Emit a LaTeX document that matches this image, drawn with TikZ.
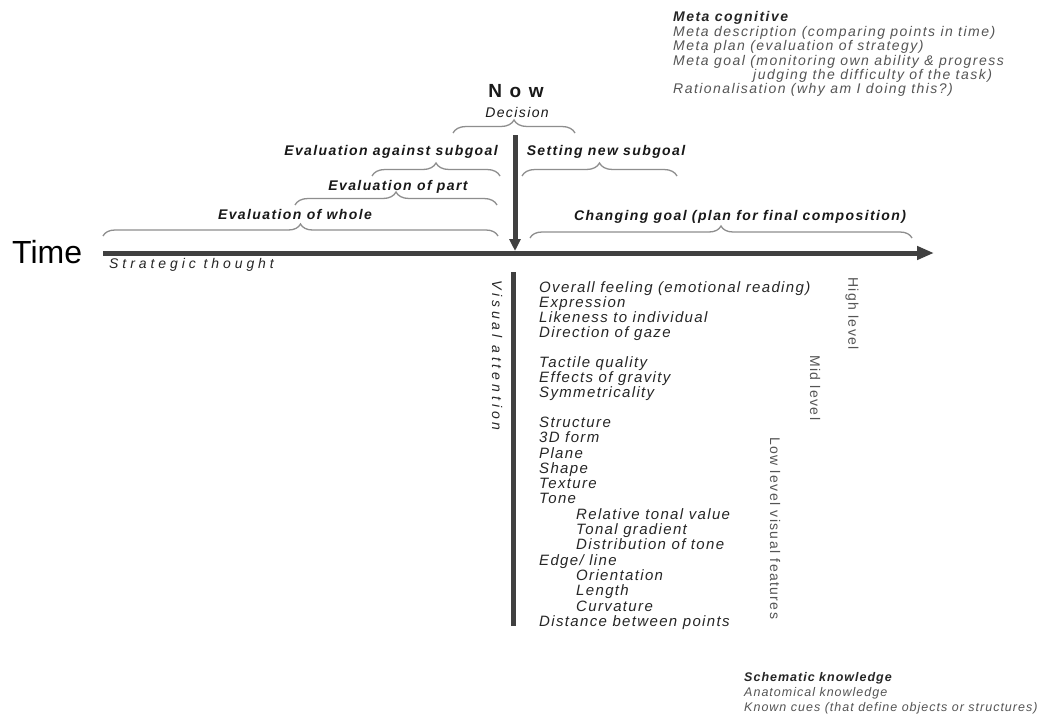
\documentclass[tikz,border=0pt]{standalone}
\usepackage{fontspec}
\setmainfont{Liberation Sans}
\newfontfamily\lsItem[LetterSpace=9]{Liberation Sans}
\newfontfamily\lsLab[LetterSpace=10]{Liberation Sans}
\newfontfamily\lsWide[LetterSpace=28]{Liberation Sans}
\newfontfamily\lsNow[LetterSpace=40]{Liberation Sans}
\newfontfamily\lsMeta[LetterSpace=10.5]{Liberation Sans}
\newfontfamily\lsSch[LetterSpace=8]{Liberation Sans}
\usetikzlibrary{decorations.pathreplacing,arrows.meta}
\definecolor{axisgray}{HTML}{404040}
\definecolor{bracegray}{HTML}{8E8E8E}
\definecolor{metagray}{HTML}{555555}
\definecolor{itemgray}{HTML}{262626}
\begin{document}
\begin{tikzpicture}[x=1pt,y=-1pt,
  axisline/.style={draw=axisgray,line width=5pt},
  br/.style={draw=bracegray,line width=1.3pt,decorate,decoration={brace,amplitude=#1}},
  br/.default=13pt,
  lab/.style={inner sep=0,anchor=base,font=\fontsize{14}{16}\selectfont\lsLab\bfseries\itshape,text=black!90},
  item/.style={inner sep=0,anchor=base west,font=\fontsize{15}{16}\selectfont\lsItem\itshape,text=itemgray},
  meta/.style={inner sep=0,anchor=base west,font=\fontsize{14}{15}\selectfont\lsMeta\itshape,text=metagray},
  sch/.style={inner sep=0,anchor=base west,font=\fontsize{12.5}{14}\selectfont\lsSch\itshape,text=metagray},
  lvl/.style={inner sep=0,anchor=west,rotate=-90,font=\fontsize{14}{15}\selectfont\lsLab,text=metagray}]
\useasboundingbox[fill=white] (0,0) rectangle (1040,717);

% axes
\coordinate (t0) at (103,253);
\coordinate (t1) at (934,253);
\draw[axisline,-{Triangle[length=17pt,width=13pt]}] (t0) -- (t1);
\coordinate (n0) at (515,135);
\coordinate (n1) at (515,251);
\draw[axisline,-{Triangle[length=12pt,width=11pt]}] (n0) -- (n1);
\coordinate (v0) at (513,272);
\coordinate (v1) at (513,626);
\draw[axisline] (v0) -- (v1);

\node[inner sep=0,anchor=base west,font=\fontsize{32}{34}\selectfont] (time) at (12,263) {Time};
\node[inner sep=0,anchor=base west,font=\fontsize{14}{16}\selectfont\lsWide\itshape,text=black!85] (strat) at (109,268) {Strategic thought};

% Now / braces
\node[inner sep=0,anchor=base,font=\fontsize{19}{21}\selectfont\lsNow\bfseries,text=black!90] (now) at (516,97) {Now};
\node[lab,font=\fontsize{14}{16}\selectfont\lsLab\itshape] (dec) at (517,117) {Decision};
\draw[br] (453,133) -- (575,133);

\node[lab] (eas) at (391,155) {Evaluation against subgoal};
\draw[br] (372,176) -- (500,176);
\node[lab] (snb) at (606,155) {Setting new subgoal};
\draw[br] (522,176) -- (677,176);
\node[lab] (eop) at (398,190) {Evaluation of part};
\draw[br] (295,205) -- (497,205);
\node[lab] (eow) at (295,219) {Evaluation of whole};
\draw[br=12pt] (103,236) -- (498,236);
\node[lab] (cg) at (740,220) {Changing goal (plan for final composition)};
\draw[br=12pt] (530,238) -- (912,238);

% visual attention
\node[inner sep=0,anchor=west,rotate=-90,font=\fontsize{14}{16}\selectfont\lsWide\itshape,text=black!85] (va) at (497,280) {Visual attention};

% list
\node[item] (i1) at (539,292) {Overall feeling (emotional reading)};
\node[item] (i2) at (539,307) {Expression};
\node[item] (i3) at (539,322) {Likeness to individual};
\node[item] (i4) at (539,337) {Direction of gaze};
\node[item] (i5) at (539,367) {Tactile quality};
\node[item] (i6) at (539,382) {Effects of gravity};
\node[item] (i7) at (539,397) {Symmetricality};
\node[item] (i8) at (539,427) {Structure};
\node[item] (i9) at (539,442) {3D form};
\node[item] (i10) at (539,458) {Plane};
\node[item] (i11) at (539,473) {Shape};
\node[item] (i12) at (539,488) {Texture};
\node[item] (i13) at (539,503) {Tone};
\node[item] (i14) at (576,519) {Relative tonal value};
\node[item] (i15) at (576,534) {Tonal gradient};
\node[item] (i16) at (576,549) {Distribution of tone};
\node[item] (i17) at (539,565) {Edge/ line};
\node[item] (i18) at (576,580) {Orientation};
\node[item] (i19) at (576,595) {Length};
\node[item] (i20) at (576,611) {Curvature};
\node[item] (i21) at (539,626) {Distance between points};

% levels
\node[lvl] (hl) at (852,277) {High level};
\node[lvl] (ml) at (815,355) {Mid level};
\node[lvl] (ll) at (775,437) {Low level visual features};

% meta cognitive
\node[meta,font=\fontsize{14}{15}\selectfont\lsMeta\bfseries\itshape,text=black!85] (m0) at (673,22) {Meta cognitive};
\node[meta] (m1) at (673,37) {Meta description (comparing points in time)};
\node[meta] (m2) at (673,51) {Meta plan (evaluation of strategy)};
\node[meta] (m3) at (673,65) {Meta goal (monitoring own ability \& progress};
\node[meta] (m4) at (753,79) {judging the difficulty of the task)};
\node[meta] (m5) at (673,93) {Rationalisation (why am I doing this?)};

% schematic
\node[sch,font=\fontsize{12.5}{14}\selectfont\lsSch\bfseries\itshape,text=black!85] (s0) at (744,681) {Schematic knowledge};
\node[sch] (s1) at (744,696) {Anatomical knowledge};
\node[sch] (s2) at (744,711) {Known cues (that define objects or structures)};
\end{tikzpicture}
\end{document}
